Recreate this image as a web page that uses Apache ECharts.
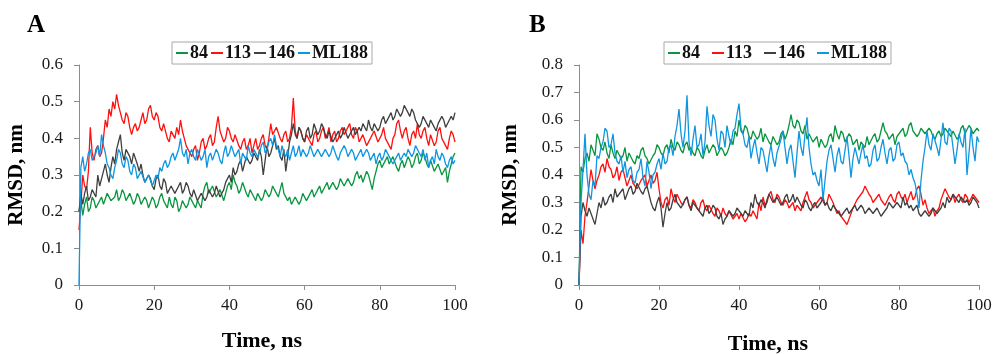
<!DOCTYPE html>
<html>
<head>
<meta charset="utf-8">
<script src="https://cdn.jsdelivr.net/npm/echarts@6/dist/echarts.min.js"></script>
<style>
html,body{margin:0;padding:0;background:#fff;}
#c{width:993px;height:354px;}
</style>
</head>
<body>
<div id="c"></div>
<script>
// Time (ns) sample points, every 0.5 ns
var time = [
 0,0.5,1,1.5,2,2.5,3,3.5,4,4.5,5,5.5,6,6.5,7,7.5,8,8.5,9,9.5,
 10,10.5,11,11.5,12,12.5,13,13.5,14,14.5,15,15.5,16,16.5,17,17.5,18,18.5,19,19.5,
 20,20.5,21,21.5,22,22.5,23,23.5,24,24.5,25,25.5,26,26.5,27,27.5,28,28.5,29,29.5,
 30,30.5,31,31.5,32,32.5,33,33.5,34,34.5,35,35.5,36,36.5,37,37.5,38,38.5,39,39.5,
 40,40.5,41,41.5,42,42.5,43,43.5,44,44.5,45,45.5,46,46.5,47,47.5,48,48.5,49,49.5,
 50,50.5,51,51.5,52,52.5,53,53.5,54,54.5,55,55.5,56,56.5,57,57.5,58,58.5,59,59.5,
 60,60.5,61,61.5,62,62.5,63,63.5,64,64.5,65,65.5,66,66.5,67,67.5,68,68.5,69,69.5,
 70,70.5,71,71.5,72,72.5,73,73.5,74,74.5,75,75.5,76,76.5,77,77.5,78,78.5,79,79.5,
 80,80.5,81,81.5,82,82.5,83,83.5,84,84.5,85,85.5,86,86.5,87,87.5,88,88.5,89,89.5,
 90,90.5,91,91.5,92,92.5,93,93.5,94,94.5,95,95.5,96,96.5,97,97.5,98,98.5,99,99.5,
 100];

var seriesNames = ['84','113','146','ML188'];

// Panel A (RMSD, nm)
var a84 = [
 .20,.23,.19,.22,.24,.20,.21,.24,.23,.21,.21,.23,.24,.22,.22,.25,.25,.23,.23,.24,
 .26,.23,.24,.26,.25,.23,.23,.25,.25,.22,.23,.25,.24,.22,.22,.24,.23,.21,.21,.24,
 .23,.21,.22,.24,.25,.23,.23,.21,.24,.22,.21,.24,.23,.20,.21,.23,.23,.21,.22,.24,
 .24,.22,.21,.23,.23,.21,.25,.27,.28,.25,.25,.27,.27,.24,.24,.26,.26,.23,.25,.27,
 .28,.26,.30,.28,.27,.25,.26,.28,.28,.25,.24,.26,.26,.24,.23,.25,.25,.23,.24,.26,
 .26,.24,.25,.27,.27,.25,.24,.26,.28,.25,.25,.23,.24,.22,.22,.24,.24,.22,.23,.25,
 .25,.23,.23,.25,.26,.24,.24,.26,.27,.25,.25,.27,.28,.26,.26,.28,.28,.26,.27,.29,
 .29,.27,.27,.29,.29,.27,.28,.30,.31,.29,.30,.28,.28,.31,.30,.28,.26,.29,.31,.33,
 .34,.32,.32,.34,.35,.33,.33,.35,.35,.32,.31,.33,.34,.32,.32,.35,.34,.32,.33,.35,
 .36,.33,.34,.36,.35,.33,.32,.34,.34,.31,.31,.33,.33,.30,.30,.32,.28,.31,.33,.35,
 .36];
var a113 = [
 .15,.22,.30,.27,.26,.31,.43,.36,.34,.37,.38,.35,.36,.40,.45,.43,.48,.46,.50,.48,
 .52,.49,.47,.45,.44,.47,.46,.43,.41,.43,.44,.42,.43,.45,.47,.44,.45,.48,.49,.46,
 .45,.47,.46,.43,.42,.44,.44,.40,.39,.42,.41,.40,.43,.41,.45,.42,.40,.38,.37,.36,
 .35,.37,.38,.34,.36,.39,.40,.37,.38,.40,.41,.38,.39,.43,.46,.42,.42,.39,.40,.43,
 .42,.40,.39,.41,.41,.38,.37,.39,.40,.37,.38,.40,.36,.38,.40,.37,.38,.40,.41,.38,
 .37,.40,.44,.41,.41,.43,.43,.40,.39,.41,.42,.39,.40,.43,.51,.42,.40,.43,.42,.40,
 .39,.41,.41,.39,.38,.41,.42,.39,.40,.42,.43,.40,.41,.43,.39,.41,.42,.39,.40,.42,
 .43,.41,.41,.43,.44,.41,.40,.43,.42,.39,.39,.41,.41,.38,.38,.40,.40,.42,.42,.39,
 .39,.41,.43,.40,.40,.38,.37,.40,.41,.44,.45,.42,.40,.42,.43,.40,.38,.41,.42,.40,
 .44,.41,.40,.42,.43,.40,.38,.41,.41,.38,.39,.42,.43,.40,.40,.38,.37,.40,.42,.41,
 .39];
var a146 = [
 .20,.25,.22,.25,.27,.23,.24,.26,.26,.24,.30,.27,.27,.31,.33,.30,.28,.32,.35,.33,
 .37,.39,.41,.36,.34,.37,.37,.35,.33,.36,.36,.33,.31,.33,.30,.28,.28,.30,.29,.27,
 .26,.29,.30,.27,.26,.29,.28,.25,.25,.27,.27,.25,.25,.27,.28,.25,.26,.28,.27,.25,
 .24,.26,.26,.23,.23,.25,.25,.23,.24,.26,.26,.24,.25,.27,.27,.24,.24,.26,.28,.29,
 .30,.28,.32,.30,.31,.33,.34,.31,.33,.35,.35,.33,.34,.36,.36,.34,.37,.35,.30,.34,
 .38,.35,.36,.38,.40,.37,.38,.35,.34,.37,.31,.35,.39,.41,.44,.41,.40,.43,.42,.40,
 .39,.42,.43,.40,.41,.44,.44,.41,.42,.44,.43,.41,.40,.42,.42,.39,.39,.41,.42,.40,
 .41,.43,.43,.40,.40,.42,.43,.41,.41,.43,.42,.44,.44,.42,.45,.43,.42,.44,.44,.42,
 .43,.45,.46,.44,.44,.46,.47,.45,.46,.48,.48,.46,.47,.49,.49,.47,.46,.48,.47,.45,
 .45,.43,.44,.46,.46,.44,.43,.45,.45,.43,.42,.44,.44,.46,.45,.43,.43,.45,.46,.45,
 .47];
var aML188 = [
 .00,.32,.35,.31,.33,.36,.37,.34,.34,.36,.38,.35,.41,.38,.36,.33,.32,.30,.29,.32,
 .34,.37,.36,.33,.32,.35,.34,.31,.30,.33,.32,.29,.29,.31,.31,.28,.28,.30,.30,.27,
 .27,.30,.29,.32,.31,.33,.34,.32,.33,.35,.36,.34,.34,.37,.40,.36,.35,.37,.33,.36,
 .37,.35,.34,.37,.37,.34,.35,.37,.32,.35,.36,.34,.34,.37,.36,.34,.33,.36,.38,.35,
 .36,.38,.38,.35,.35,.37,.33,.36,.36,.34,.38,.36,.35,.37,.37,.35,.36,.38,.39,.36,
 .37,.39,.40,.38,.41,.38,.37,.35,.38,.36,.35,.37,.34,.36,.38,.35,.36,.38,.35,.37,
 .37,.35,.36,.38,.38,.35,.35,.37,.37,.35,.35,.37,.37,.35,.36,.38,.38,.35,.34,.36,
 .36,.38,.37,.35,.35,.37,.36,.34,.34,.36,.37,.35,.35,.37,.36,.34,.34,.36,.33,.35,
 .36,.34,.35,.37,.37,.35,.35,.33,.33,.35,.36,.34,.34,.36,.35,.37,.37,.35,.36,.38,
 .38,.36,.35,.37,.34,.36,.32,.34,.35,.33,.37,.35,.34,.36,.35,.33,.32,.34,.35,.33,
 .34];

// Panel B (RMSD, nm)
var b84 = [
 .00,.43,.41,.46,.48,.45,.51,.49,.47,.55,.53,.50,.49,.52,.48,.46,.51,.48,.46,.49,
 .49,.46,.47,.50,.45,.48,.48,.45,.44,.47,.46,.49,.50,.47,.46,.44,.44,.47,.48,.51,
 .50,.48,.47,.50,.51,.48,.53,.50,.49,.52,.51,.49,.48,.51,.52,.49,.50,.48,.47,.50,
 .49,.47,.46,.49,.51,.48,.48,.51,.50,.47,.47,.50,.49,.47,.48,.50,.53,.51,.56,.54,
 .60,.56,.55,.58,.57,.54,.53,.56,.56,.53,.54,.57,.52,.55,.55,.52,.51,.54,.54,.51,
 .52,.55,.56,.53,.55,.58,.62,.58,.57,.60,.59,.56,.55,.58,.53,.55,.55,.52,.52,.54,
 .50,.53,.53,.50,.51,.54,.55,.52,.58,.55,.53,.56,.55,.52,.52,.55,.54,.51,.51,.53,
 .49,.52,.52,.50,.54,.51,.51,.54,.55,.52,.53,.56,.59,.56,.55,.53,.53,.55,.51,.54,
 .54,.56,.57,.54,.55,.58,.59,.56,.56,.54,.55,.57,.57,.55,.55,.57,.56,.54,.53,.55,
 .56,.54,.55,.57,.57,.55,.54,.56,.56,.53,.54,.57,.58,.55,.55,.58,.57,.55,.55,.57,
 .56];
var b113 = [
 .00,.20,.15,.25,.30,.36,.42,.38,.35,.38,.40,.43,.44,.41,.46,.43,.42,.39,.40,.43,
 .38,.41,.42,.39,.36,.38,.40,.37,.37,.35,.35,.38,.38,.40,.36,.38,.40,.37,.38,.41,
 .35,.30,.28,.31,.32,.29,.35,.32,.30,.33,.33,.30,.29,.31,.32,.29,.28,.31,.30,.28,
 .27,.30,.31,.28,.27,.29,.29,.26,.25,.28,.27,.25,.28,.26,.25,.27,.27,.24,.25,.26,
 .24,.26,.26,.23,.24,.26,.25,.27,.27,.24,.30,.27,.32,.29,.30,.33,.34,.31,.30,.33,
 .32,.30,.29,.31,.30,.28,.28,.30,.27,.29,.29,.27,.30,.32,.34,.31,.30,.28,.28,.30,
 .30,.32,.32,.29,.30,.33,.33,.30,.28,.26,.27,.25,.25,.23,.22,.24,.26,.28,.28,.31,
 .31,.33,.34,.36,.36,.33,.32,.30,.30,.32,.33,.31,.31,.29,.29,.32,.33,.31,.30,.33,
 .34,.32,.31,.33,.30,.32,.34,.31,.32,.35,.36,.33,.29,.31,.28,.26,.26,.28,.25,.27,
 .28,.31,.33,.35,.35,.32,.31,.33,.30,.32,.33,.31,.30,.33,.32,.30,.30,.33,.33,.31,
 .30];
var b146 = [
 .00,.25,.30,.27,.25,.28,.28,.24,.22,.26,.30,.28,.32,.29,.30,.32,.33,.30,.35,.32,
 .32,.34,.35,.31,.33,.35,.36,.33,.34,.37,.37,.34,.33,.35,.36,.33,.30,.28,.27,.30,
 .32,.28,.21,.26,.30,.27,.28,.31,.33,.30,.30,.28,.28,.31,.32,.29,.27,.30,.30,.28,
 .28,.26,.25,.28,.29,.26,.27,.29,.28,.25,.24,.26,.22,.24,.25,.27,.27,.25,.26,.28,
 .28,.26,.25,.27,.27,.25,.30,.28,.33,.30,.29,.31,.30,.28,.31,.33,.33,.30,.30,.32,
 .32,.29,.30,.32,.33,.30,.31,.33,.30,.32,.32,.29,.28,.31,.30,.28,.27,.29,.30,.28,
 .28,.30,.32,.29,.30,.28,.27,.29,.29,.27,.27,.25,.25,.27,.28,.26,.26,.28,.29,.27,
 .27,.29,.28,.26,.26,.28,.28,.26,.26,.28,.28,.25,.25,.27,.28,.30,.30,.28,.28,.30,
 .30,.28,.32,.29,.30,.28,.29,.27,.27,.29,.26,.25,.25,.27,.27,.25,.26,.28,.28,.26,
 .26,.28,.30,.28,.32,.30,.31,.33,.33,.31,.30,.32,.32,.30,.31,.29,.30,.32,.32,.30,
 .28];
var bML188 = [
 .00,.30,.42,.55,.40,.33,.31,.38,.36,.47,.46,.50,.52,.57,.56,.50,.51,.55,.48,.45,
 .44,.47,.41,.45,.39,.42,.43,.38,.37,.41,.42,.46,.39,.36,.45,.41,.35,.40,.41,.44,
 .46,.42,.48,.44,.45,.50,.51,.47,.54,.58,.64,.55,.50,.56,.69,.52,.47,.53,.58,.50,
 .51,.55,.47,.52,.65,.58,.54,.62,.60,.53,.49,.56,.55,.50,.58,.54,.51,.56,.57,.62,
 .66,.57,.55,.51,.50,.54,.46,.50,.53,.48,.44,.50,.49,.45,.41,.47,.51,.46,.43,.48,
 .48,.53,.56,.50,.44,.49,.51,.45,.39,.48,.56,.50,.47,.55,.61,.50,.44,.40,.41,.38,
 .36,.42,.31,.38,.45,.49,.51,.46,.41,.47,.50,.45,.44,.49,.54,.47,.39,.46,.50,.47,
 .44,.48,.51,.46,.47,.43,.44,.49,.51,.45,.46,.50,.53,.48,.44,.49,.50,.45,.46,.51,
 .52,.47,.48,.45,.44,.40,.42,.39,.37,.33,.28,.38,.45,.50,.56,.51,.49,.55,.55,.50,
 .47,.53,.59,.52,.51,.57,.56,.50,.44,.49,.55,.52,.50,.57,.40,.48,.57,.50,.45,.54,
 .52];

var colors = ['#0a9640','#ff1010','#404040','#0e96e0'];
var FONT = 'Liberation Serif';

function pairs(vals){ return time.map(function(t,i){ return [t, vals[i]]; }); }

function makeSeries(idx, arrs){
  return arrs.map(function(v,i){
    return {
      type:'line', name: seriesNames[i], xAxisIndex: idx, yAxisIndex: idx,
      data: pairs(v), showSymbol:false, symbol:'none',
      lineStyle:{width:1.3, color: colors[i]}, itemStyle:{color: colors[i]},
      animation:false
    };
  });
}

function xAx(idx, gap, padR){
  return {
    type:'value', gridIndex: idx, min:0, max:100, interval:20,
    splitLine:{show:false},
    axisLine:{lineStyle:{color:'#8c8c8c', width:1}},
    axisTick:{show:true, inside:false, length:5, lineStyle:{color:'#8c8c8c'}},
    axisLabel:{fontFamily:FONT, fontSize:17, color:'#1a1a1a', margin:12},
    name:'Time, ns', nameLocation:'middle', nameGap:gap,
    nameTextStyle:{fontFamily:FONT, fontSize:22, fontWeight:'bold', color:'#000', padding:[0,padR,0,0]}
  };
}
function yAx(idx, max, gap){
  return {
    type:'value', gridIndex: idx, min:0, max:max, interval:0.1,
    splitLine:{show:false},
    axisLine:{show:true, lineStyle:{color:'#8c8c8c', width:1}},
    axisTick:{show:true, inside:false, length:5, lineStyle:{color:'#8c8c8c'}},
    axisLabel:{fontFamily:FONT, fontSize:17, color:'#1a1a1a', margin:16,
      formatter:function(v){ return String(Math.round(v*10)/10); }},
    name:'RMSD, nm', nameLocation:'middle', nameGap:gap, nameRotate:90,
    nameTextStyle:{fontFamily:FONT, fontSize:21, fontWeight:'bold', color:'#000'}
  };
}

function legend(left, gap){
  return {
    left:left, top:42, orient:'horizontal',
    data: seriesNames.map(function(n,i){ return {name:n, itemStyle:{color:colors[i]}}; }),
    icon:'rect', itemWidth:12, itemHeight:2, itemGap:gap,
    padding:[2,4,2,4], borderColor:'#a8a8a8', borderWidth:1,
    textStyle:{fontFamily:FONT, fontSize:18, fontWeight:'bold', color:'#111', padding:[0,0,0,-3]},
    selectedMode:false
  };
}

var chart = echarts.init(document.getElementById('c'), null, {renderer:'canvas'});
chart.setOption({
  backgroundColor:'#fff',
  animation:false,
  title:[
    {text:'A', left:27, top:13, padding:0, textStyle:{fontFamily:FONT, fontSize:25, fontWeight:'bold', color:'#000'}},
    {text:'B', left:529, top:13, padding:0, textStyle:{fontFamily:FONT, fontSize:25, fontWeight:'bold', color:'#000'}}
  ],
  legend:[ legend(172, 3), legend(664, 12) ],
  grid:[
    {left:79, right:538, top:65, bottom:69, outerBoundsMode:'none', containLabel:false},
    {left:579, right:14, top:65, bottom:69, outerBoundsMode:'none', containLabel:false}
  ],
  xAxis:[ xAx(0, 45, 10), xAx(1, 48, 22) ],
  yAxis:[ yAx(0, 0.6, 52), yAx(1, 0.8, 58) ],
  series: makeSeries(0, [a84, a113, a146, aML188]).concat(makeSeries(1, [b84, b113, b146, bML188]))
});
</script>
</body>
</html>
